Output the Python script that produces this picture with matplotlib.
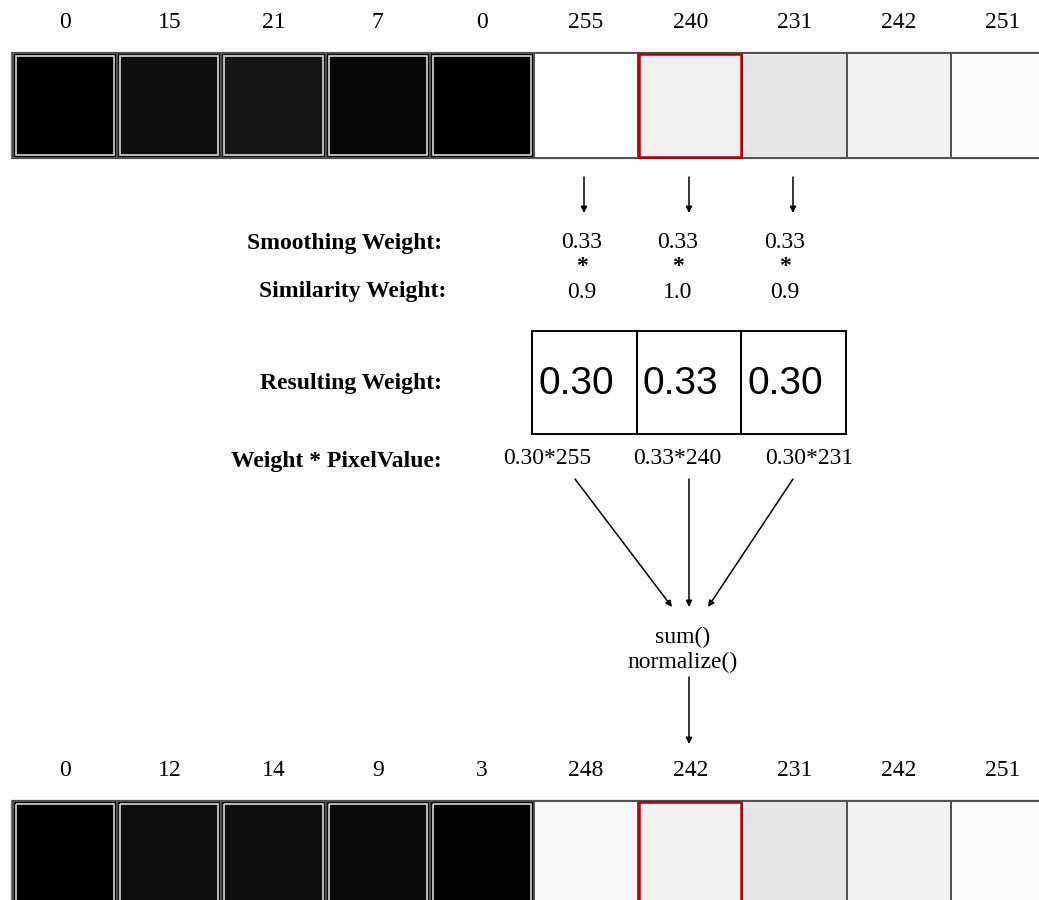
import matplotlib.pyplot as plt
from matplotlib.patches import Rectangle

# pixel values before and after filtering
top_values = [0, 15, 21, 7, 0, 255, 240, 231, 242, 251]
bottom_values = [0, 12, 14, 9, 3, 248, 242, 231, 242, 251]
center_idx = 6

smoothing_weights = [0.33, 0.33, 0.33]
similarity_weights = [0.9, 1.0, 0.9]
resulting_weights = [0.30, 0.33, 0.30]
neighbour_idx = [5, 6, 7]

row_labels = ["Smoothing Weight:", "Similarity Weight:", "Resulting Weight:", "Weight * PixelValue:"]

W, H = 1039, 900
fig = plt.figure(figsize=(W / 100, H / 100), dpi=100)
ax = fig.add_axes([0, 0, 1, 1])
ax.set_xlim(0, W)
ax.set_ylim(H, 0)
ax.axis("off")

serif = "Liberation Serif"
sans = "Liberation Sans"
fs = 17

x_start = 13
cell_w = 104.2


def cell_x(i):
    return x_start + cell_w * i


def draw_row(values, y_label, y_top, height):
    # outer frame of the strip
    ax.add_patch(Rectangle((x_start - 1, y_top), cell_w * len(values) + 2, height,
                           facecolor="white", edgecolor="#707070", lw=1.6, zorder=1))
    for i, v in enumerate(values):
        g = v / 255.0
        x0 = cell_x(i)
        ax.add_patch(Rectangle((x0, y_top), cell_w, height, facecolor=(g, g, g),
                               edgecolor="#505050", lw=1.4, zorder=2))
        if v < 128:
            ax.add_patch(Rectangle((x0 + 3, y_top + 3), cell_w - 6, height - 6,
                                   facecolor="none", edgecolor="#d8d8d8", lw=1.2, zorder=3))
        ax.text(x0 + cell_w / 2, y_label, str(v), ha="center", va="center",
                fontsize=fs, family=serif, zorder=4)
    xr = cell_x(center_idx)
    ax.add_patch(Rectangle((xr + 1, y_top + 1), cell_w - 2, height - 2, facecolor="none",
                           edgecolor="#b00000", lw=1.8, zorder=5))


draw_row(top_values, 22, 53, 105)
draw_row(bottom_values, 770, 801, 110)

arrow_kw = dict(arrowstyle="-|>", color="black", lw=1.1, mutation_scale=9,
                shrinkA=0, shrinkB=0)

# arrows from the neighbourhood down to the weights
cols = [584, 689, 793]
for x in cols:
    ax.annotate("", xy=(x, 213), xytext=(x, 177), arrowprops=arrow_kw)

label_right = 442
ax.text(label_right, 243, row_labels[0], ha="right", va="center", fontsize=fs,
        family=serif, fontweight="bold")
ax.text(label_right + 4, 291, row_labels[1], ha="right", va="center", fontsize=fs,
        family=serif, fontweight="bold")
ax.text(label_right, 384, row_labels[2], ha="right", va="center", fontsize=fs,
        family=serif, fontweight="bold")
ax.text(label_right, 461, row_labels[3], ha="right", va="center", fontsize=fs,
        family=serif, fontweight="bold")

num_x = [582, 678, 785]
for x, s, m in zip(num_x, smoothing_weights, similarity_weights):
    ax.text(x, 242, f"{s:.2f}", ha="center", va="center", fontsize=fs, family=serif)
    ax.text(x, 266, "*", ha="center", va="center", fontsize=fs, family=serif,
            fontweight="bold")
    ax.text(x, 292, f"{m:.1f}", ha="center", va="center", fontsize=fs, family=serif)

# resulting weight boxes
box_y, box_h = 331, 103
for k, (i, w) in enumerate(zip(neighbour_idx, resulting_weights)):
    x0 = 532 + k * 104.7
    ax.add_patch(Rectangle((x0, box_y), 104.7, box_h, facecolor="none",
                           edgecolor="black", lw=1.4, zorder=3))
    ax.text(x0 + 6, box_y + box_h / 2 + 1, f"{w:.2f}", ha="left", va="center",
            fontsize=28, family=sans)

prod_x = [547, 677, 809]
for x, i, w in zip(prod_x, neighbour_idx, resulting_weights):
    ax.text(x, 458, f"{w:.2f}*{top_values[i]}", ha="center", va="center",
            fontsize=fs, family=serif)

# converging arrows
starts = [(575, 479), (689, 479), (793, 479)]
ends = [(672, 607), (689, 607), (708, 607)]
for s, e in zip(starts, ends):
    ax.annotate("", xy=e, xytext=s, arrowprops=arrow_kw)

ax.text(683, 637, "sum()", ha="center", va="center", fontsize=fs, family=serif)
ax.text(683, 662, "normalize()", ha="center", va="center", fontsize=fs, family=serif)
ax.annotate("", xy=(689, 744), xytext=(689, 677), arrowprops=arrow_kw)

fig.savefig("out.png", dpi=100, facecolor="white")
